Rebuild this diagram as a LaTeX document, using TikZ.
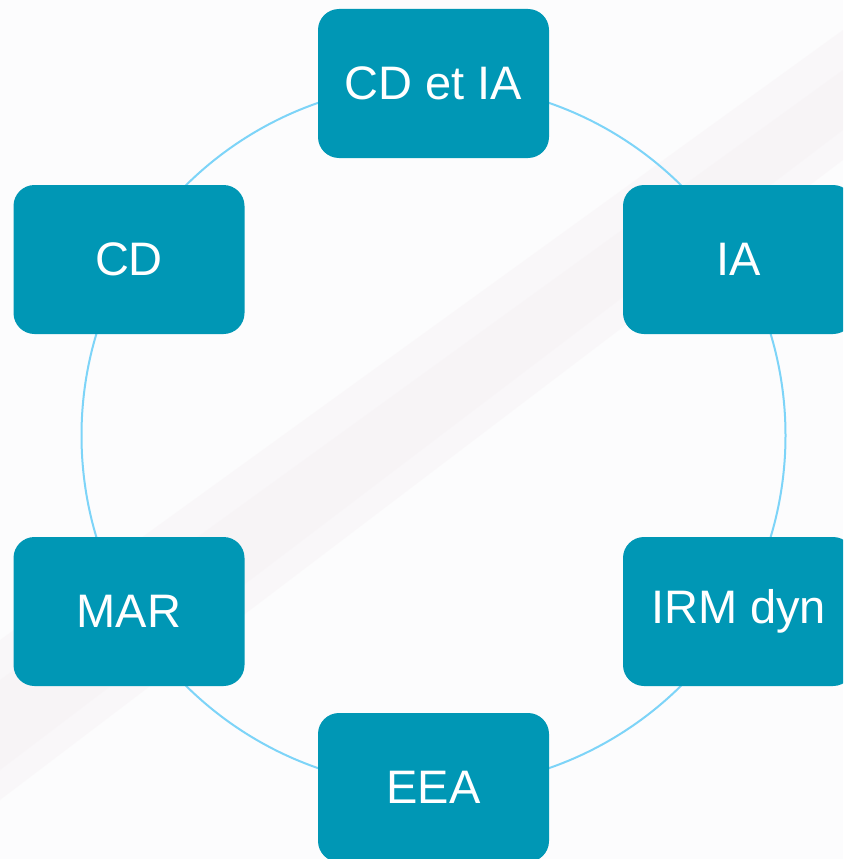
\documentclass[tikz,border=0pt]{standalone}
\usepackage{fontspec}
\setmainfont{Liberation Sans}
\definecolor{boxteal}{RGB}{0,151,181}
\definecolor{ringblue}{RGB}{125,212,248}
\definecolor{bgwhite}{RGB}{252,252,253}
\definecolor{bgpink}{RGB}{245,238,242}
\tikzset{
  stagebox/.style={rounded corners=21pt, fill=boxteal, text=white, minimum width=231pt, minimum height=149pt, inner sep=0pt, font=\fontsize{47}{56}\selectfont},
  ring/.style={draw=ringblue, line width=2pt}
}
\begin{document}
\begin{tikzpicture}[x=1pt,y=-1pt]
\useasboundingbox (0,0) rectangle (843,859);
\clip (0,0) rectangle (843,859);
\fill[bgwhite] (0,0) rectangle (843,859);
\fill[bgpink, opacity=0.3] (0,800) -- (0,640) -- (843,30) -- (843,160) -- cycle;
\fill[bgpink, opacity=0.3] (0,770) -- (0,680) -- (843,70) -- (843,130) -- cycle;
\coordinate (hub) at (433.5,435.5);
\draw[ring] (hub) circle[radius=352];
\node[stagebox] (cdia) at (433.5,83.5) {CD et IA};
\node[stagebox] (ia) at (738.5,259.5) {IA};
\node[stagebox] (irm) at (738.5,611.5) {IRM dyn};
\node[stagebox] (eea) at (433.5,787.5) {EEA};
\node[stagebox] (mar) at (129,611.5) {MAR};
\node[stagebox] (cd) at (129,259.5) {CD};
\end{tikzpicture}
\end{document}
